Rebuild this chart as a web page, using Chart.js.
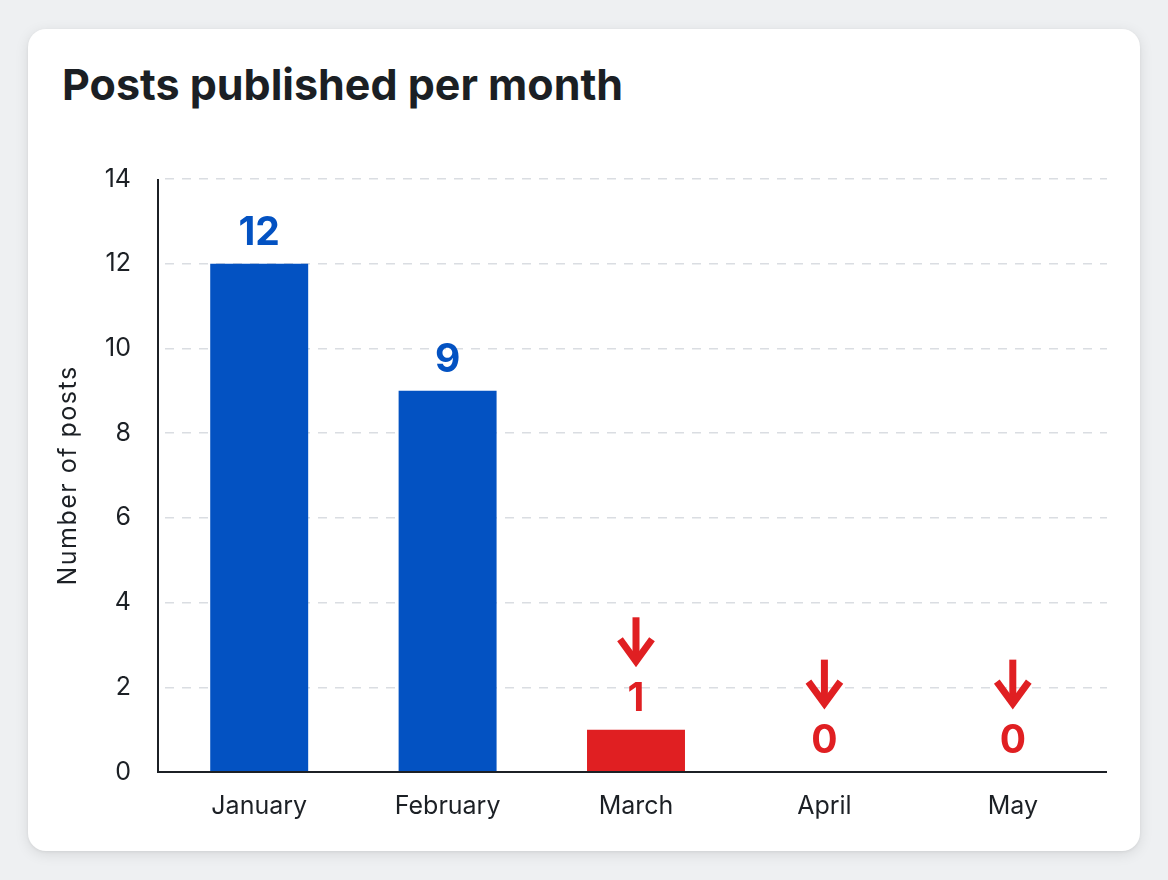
<!DOCTYPE html>
<html><head><meta charset="utf-8">
<script src="https://cdn.jsdelivr.net/npm/chart.js@4.4.1/dist/chart.umd.min.js"></script>
<style>
html,body{margin:0;padding:0;}
body{width:1168px;height:880px;background:#eef0f2;position:relative;overflow:hidden;font-family:Inter,"Noto Sans",sans-serif;}
.card{position:absolute;left:28px;top:29px;width:1112px;height:822px;background:#fff;border-radius:18px;box-shadow:0 3px 14px rgba(0,0,0,0.10),0 1px 3px rgba(0,0,0,0.06);}
.title{position:absolute;left:34px;top:34px;margin:0;font-size:43px;line-height:43px;font-weight:700;color:#1b1f24;white-space:nowrap;}
.wrap{position:absolute;left:0;top:101px;width:1112px;height:721px;}
</style></head>
<body>
<div class="card">
  <h1 class="title">Posts published per month</h1>
  <div class="wrap"><canvas id="c"></canvas></div>
</div>
<script>
const months = ['January', 'February', 'March', 'April', 'May'];
const posts = [12, 9, 1, 0, 0];
const trend = ['normal', 'normal', 'down', 'down', 'down'];
const yTickMax = 14;
const yTickStep = 2;
const yTitle = 'Number of posts';

const BLUE = '#0352c2';
const RED = '#e01f22';
const INK = '#1c2025';

const annot = {
  id: 'annot',
  afterDatasetsDraw(chart) {
    const {ctx, chartArea: {left, right, top, bottom}} = chart;
    const axisX = left - 7;
    ctx.save();
    ctx.strokeStyle = INK; ctx.lineWidth = 2;
    ctx.beginPath(); ctx.moveTo(axisX, top); ctx.lineTo(axisX, bottom); ctx.lineTo(right, bottom); ctx.stroke();
    const meta = chart.getDatasetMeta(0);
    meta.data.forEach((bar, i) => {
      const color = trend[i] === 'down' ? RED : BLUE;
      ctx.fillStyle = color;
      ctx.font = '700 39px Inter';
      ctx.textAlign = 'center'; ctx.textBaseline = 'alphabetic';
      const baseY = bar.y - 19;
      ctx.fillText(String(Math.round(posts[i])), bar.x, baseY);
      if (trend[i] === 'down') {
        const capH = 39 * 0.727;
        const tip = baseY - capH - 16;
        ctx.strokeStyle = color; ctx.lineWidth = 7; ctx.lineCap = 'butt'; ctx.lineJoin = 'miter';
        ctx.beginPath(); ctx.moveTo(bar.x, tip - 49); ctx.lineTo(bar.x, tip - 6); ctx.stroke();
        ctx.beginPath(); ctx.moveTo(bar.x - 16, tip - 27); ctx.lineTo(bar.x, tip - 5); ctx.lineTo(bar.x + 16, tip - 27); ctx.stroke();
      }
    });
    ctx.restore();
  }
};

new Chart(document.getElementById('c'), {
  type: 'bar',
  data: {
    labels: months,
    datasets: [{
      data: posts,
      backgroundColor: trend.map(t => t === 'down' ? RED : BLUE),
      borderWidth: 0,
      categoryPercentage: 1,
      barPercentage: 0.52
    }]
  },
  options: {
    responsive: true,
    maintainAspectRatio: false,
    animation: false,
    layout: {padding: {top: 10, right: 33, left: 0, bottom: 0}},
    plugins: {legend: {display: false}, tooltip: {enabled: false}},
    scales: {
      x: {
        grid: {display: false, drawTicks: false},
        border: {display: false},
        ticks: {font: {family: 'Inter', size: 25}, color: INK, padding: 19},
        afterFit(s) { s.height = 79; }
      },
      y: {
        min: 0, max: yTickMax,
        ticks: {stepSize: yTickStep, font: {family: 'Inter', size: 25}, color: INK, padding: 34},
        grid: {color: '#dadde2', lineWidth: 1.5, drawTicks: false},
        border: {display: false, dash: [9, 8]},
        title: {display: true, text: yTitle, font: {family: 'Inter', size: 25}, color: INK, padding: {top: 25, bottom: 0}},
        afterFit(s) { s.width = 137; },
        afterUpdate(s) {
          if (!s._spaced) {
            const orig = s.drawTitle.bind(s);
            s.drawTitle = function () {
              const ctx = this.ctx;
              ctx.save(); ctx.letterSpacing = '1.5px'; orig(); ctx.restore();
            };
            s._spaced = true;
          }
        }
      }
    }
  },
  plugins: [annot]
});
</script>
</body></html>
